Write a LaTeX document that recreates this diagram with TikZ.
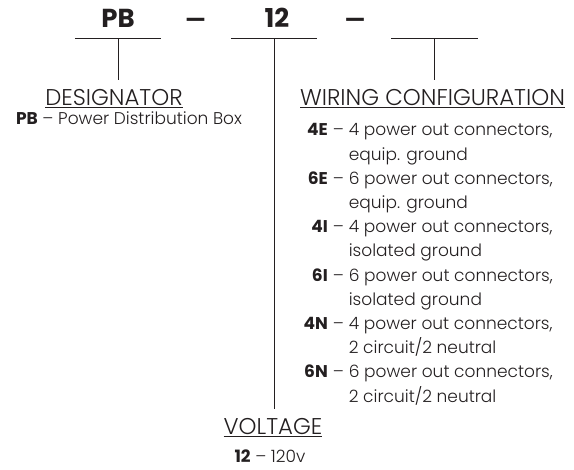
\documentclass[tikz,border=0pt]{standalone}
\usepackage{fontspec}
\IfFontExistsTF{Poppins Light}
  {\setmainfont{Poppins}[UprightFont=* Light, BoldFont=* Bold]}
  {\setmainfont{Poppins}}
\usetikzlibrary{positioning}
\definecolor{ink}{HTML}{231F20}
\tikzset{
  code/.style={font=\fontsize{26}{30}\selectfont\bfseries, text=ink, anchor=base, inner sep=0pt},
  blank/.style={font=\fontsize{19}{23}\selectfont\bfseries, text=ink, anchor=base, inner sep=0pt},
  slot/.style={minimum width=86pt, minimum height=0pt, inner sep=0pt},
  head/.style={font=\fontsize{22.8}{27}\selectfont, text=ink, anchor=base, inner xsep=0pt, inner ysep=9.5pt},
  body/.style={font=\fontsize{17}{24.2}\selectfont, text=ink, anchor=base, inner sep=0pt},
  rule/.style={draw=ink, line width=0.9pt},
}
\begin{document}
\begin{tikzpicture}[x=1pt,y=-1pt]
  \useasboundingbox (0,0) rectangle (574,470);
  % part number
  \node[code] (pb) at (118,28) {PB};
  \node[blank] (dashA) at (195.5,18) {\scalebox{1.5}[1]{\_}};
  \node[code] (volt) at (277,28) {12};
  \node[blank] (dashB) at (355,18) {\scalebox{1.5}[1]{\_}};
  \node[slot] (slotA) at (118,38.5) {};
  \node[slot] (slotB) at (274,38.5) {};
  \node[slot] (slotC) at (434.5,38.5) {};
  \draw[rule] (slotA.west) -- (slotA.east);
  \draw[rule] (slotB.west) -- (slotB.east);
  \draw[rule] (slotC.west) -- (slotC.east);
  % headings
  \node[head] (desig) at (114,106) {\underline{DESIGNATOR}};
  \node[head] (wiring) at (432.5,106) {\underline{WIRING CONFIGURATION}};
  \node[head] (voltage) at (273,435) {\underline{VOLTAGE}};
  \draw[rule] (slotA.center) -- (desig.north -| slotA.center);
  \draw[rule] (slotB.center) -- (voltage.north -| slotB.center);
  \draw[rule] (slotC.center) -- (wiring.north -| slotC.center);
  % options
  \node[body] (desigtxt) at (129,125) {\textbf{PB} – Power Distribution Box};
  \node[body, anchor=base east] (wiringtxt) at (553,136) {%
    \begin{tabular}[t]{@{}r@{\hspace{5pt}}c@{\hspace{5pt}}l@{}}
      \textbf{4E} & – & 4 power out connectors,\\
                  &   & equip. ground\\
      \textbf{6E} & – & 6 power out connectors,\\
                  &   & equip. ground\\
      \textbf{4I} & – & 4 power out connectors,\\
                  &   & isolated ground\\
      \textbf{6I} & – & 6 power out connectors,\\
                  &   & isolated ground\\
      \textbf{4N} & – & 4 power out connectors,\\
                  &   & 2 circuit/2 neutral\\
      \textbf{6N} & – & 6 power out connectors,\\
                  &   & 2 circuit/2 neutral
    \end{tabular}};
  \node[body] (volttxt) at (270,463) {\textbf{12} – 120v};
\end{tikzpicture}
\end{document}
